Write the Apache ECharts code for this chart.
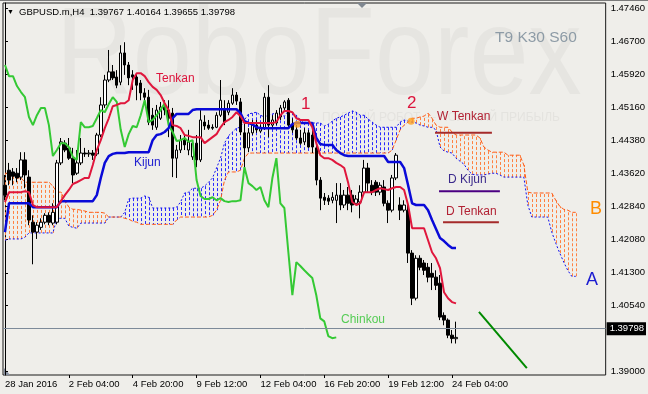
<!DOCTYPE html>
<html><head><meta charset="utf-8">
<script src="https://cdn.jsdelivr.net/npm/echarts@6/dist/echarts.min.js"></script>
<style>html,body{margin:0;padding:0;background:#efeeea;}#c{width:648px;height:394px;}</style>
</head><body><div id="c"></div>
<script>
// ---- data (GBPUSD.m, H4) ----
const firstLabel = '28 Jan 2016';
const xTickLabels = ['2 Feb 04:00','4 Feb 20:00','9 Feb 12:00','12 Feb 04:00','16 Feb 20:00','19 Feb 12:00','24 Feb 04:00'];
const yTickValues = [1.39,1.4054,1.413,1.4208,1.4284,1.4362,1.4438,1.4516,1.4592,1.467,1.4746];
const lastClose = 1.39798;
const titleText = 'GBPUSD.m,H4  1.39767 1.40164 1.39655 1.39798';

// candles: [open, close, low, high]
const candles = [
[1.4334,1.4311,1.4299,1.4358],[1.4369,1.4346,1.4334,1.4386],[1.4365,1.4355,1.4334,1.4374],[1.4362,1.4351,1.4341,1.4374],
[1.4353,1.4393,1.4346,1.4411],[1.4393,1.4358,1.4327,1.4411],[1.4353,1.4253,1.4241,1.4369],[1.4248,1.4225,1.4150,1.4264],
[1.4225,1.4241,1.4209,1.4248],[1.4236,1.4248,1.4230,1.4257],[1.4248,1.4264,1.4243,1.4269],[1.4264,1.4248,1.4241,1.4271],
[1.4246,1.4271,1.4241,1.4292],[1.4248,1.4386,1.4243,1.4393],[1.4386,1.4435,1.4381,1.4444],[1.4432,1.4416,1.4411,1.4439],
[1.4421,1.4397,1.4393,1.4444],[1.4397,1.4358,1.4339,1.4421],[1.4362,1.4386,1.4358,1.4416],[1.4386,1.4409,1.4381,1.4444],
[1.4409,1.4407,1.4400,1.4421],[1.4407,1.4409,1.4400,1.4416],[1.4409,1.4404,1.4393,1.4416],[1.4407,1.4451,1.4402,1.4456],
[1.4451,1.4521,1.4446,1.4539],[1.4521,1.4579,1.4514,1.4591],[1.4579,1.4598,1.4574,1.4649],[1.4598,1.4584,1.4579,1.4614],
[1.4586,1.4567,1.4560,1.4602],[1.4574,1.4642,1.4567,1.4660],[1.4642,1.4614,1.4591,1.4667],[1.4614,1.4584,1.4567,1.4621],
[1.4591,1.4586,1.4556,1.4602],[1.4586,1.4567,1.4532,1.4595],[1.4572,1.4549,1.4532,1.4579],[1.4549,1.4539,1.4521,1.4560],
[1.4539,1.4481,1.4474,1.4556],[1.4497,1.4474,1.4463,1.4514],[1.4469,1.4509,1.4463,1.4521],[1.4490,1.4516,1.4486,1.4528],
[1.4516,1.4509,1.4497,1.4532],[1.4509,1.4490,1.4446,1.4532],[1.4502,1.4397,1.4353,1.4514],[1.4397,1.4416,1.4351,1.4428],
[1.4416,1.4439,1.4409,1.4451],[1.4439,1.4428,1.4416,1.4451],[1.4416,1.4435,1.4404,1.4463],[1.4400,1.4432,1.4393,1.4439],
[1.4432,1.4393,1.4376,1.4451],[1.4393,1.4486,1.4388,1.4509],[1.4481,1.4472,1.4463,1.4497],[1.4474,1.4467,1.4463,1.4486],
[1.4469,1.4467,1.4463,1.4476],[1.4469,1.4497,1.4467,1.4504],[1.4497,1.4532,1.4493,1.4579],[1.4509,1.4481,1.4474,1.4532],
[1.4504,1.4525,1.4497,1.4532],[1.4525,1.4544,1.4521,1.4560],[1.4544,1.4530,1.4521,1.4551],[1.4528,1.4458,1.4451,1.4537],
[1.4456,1.4421,1.4374,1.4486],[1.4421,1.4456,1.4411,1.4467],[1.4456,1.4474,1.4451,1.4486],[1.4474,1.4463,1.4456,1.4486],
[1.4460,1.4469,1.4456,1.4476],[1.4467,1.4539,1.4463,1.4549],[1.4539,1.4474,1.4446,1.4567],[1.4474,1.4486,1.4467,1.4497],
[1.4479,1.4502,1.4474,1.4509],[1.4493,1.4514,1.4486,1.4521],[1.4514,1.4528,1.4509,1.4532],[1.4532,1.4474,1.4467,1.4537],
[1.4474,1.4463,1.4456,1.4490],[1.4463,1.4444,1.4439,1.4474],[1.4444,1.4432,1.4428,1.4463],[1.4435,1.4456,1.4428,1.4467],
[1.4456,1.4423,1.4421,1.4463],[1.4451,1.4423,1.4409,1.4463],[1.4421,1.4346,1.4334,1.4428],[1.4346,1.4304,1.4276,1.4353],
[1.4306,1.4299,1.4288,1.4316],[1.4304,1.4297,1.4288,1.4311],[1.4299,1.4306,1.4292,1.4318],[1.4299,1.4311,1.4246,1.4339],
[1.4311,1.4288,1.4276,1.4339],[1.4288,1.4311,1.4281,1.4323],[1.4311,1.4292,1.4276,1.4330],[1.4311,1.4288,1.4271,1.4323],
[1.4292,1.4302,1.4288,1.4311],[1.4295,1.4318,1.4257,1.4334],[1.4318,1.4374,1.4311,1.4393],[1.4374,1.4339,1.4318,1.4386],
[1.4334,1.4318,1.4311,1.4346],[1.4341,1.4318,1.4309,1.4346],[1.4318,1.4334,1.4311,1.4341],[1.4330,1.4292,1.4285,1.4346],
[1.4292,1.4276,1.4246,1.4299],[1.4276,1.4351,1.4271,1.4358],[1.4351,1.4404,1.4346,1.4409],[1.4288,1.4276,1.4253,1.4306],
[1.4276,1.4288,1.4271,1.4299],[1.4276,1.4176,1.4153,1.4288],[1.4176,1.4071,1.4055,1.4183],[1.4071,1.4164,1.4066,1.4171],
[1.4164,1.4143,1.4136,1.4171],[1.4153,1.4136,1.4125,1.4160],[1.4143,1.4120,1.4108,1.4153],[1.4129,1.4120,1.4090,1.4153],
[1.4120,1.4101,1.4090,1.4136],[1.4106,1.4027,1.4020,1.4125],[1.4031,1.4020,1.4008,1.4038],[1.4020,1.3985,1.3978,1.4024],
[1.3985,1.3977,1.3966,1.3997],[1.39767,1.39798,1.39655,1.40164]
];

const tenkan = [
1.4295,1.4318,1.4318,1.4318,1.4318,1.4320,1.4318,1.4288,1.4283,1.4283,
1.4283,1.4283,1.4283,1.4283,1.4297,1.4311,1.4323,1.4337,1.4341,1.4346,
1.4351,1.4351,1.4381,1.4416,1.4439,1.4467,1.4490,1.4518,1.4521,1.4525,
1.4525,1.4532,1.4579,1.4595,1.4595,1.4588,1.4574,1.4563,1.4556,1.4544,
1.4525,1.4509,1.4474,1.4472,1.4467,1.4451,1.4449,1.4446,1.4446,1.4446,
1.4432,1.4439,1.4446,1.4453,1.4469,1.4481,1.4486,1.4493,1.4504,1.4495,
1.4479,1.4479,1.4479,1.4479,1.4479,1.4479,1.4479,1.4479,1.4481,1.4497,
1.4507,1.4507,1.4504,1.4490,1.4486,1.4486,1.4486,1.4469,1.4432,1.4404,
1.4397,1.4397,1.4393,1.4386,1.4381,1.4374,1.4339,1.4295,1.4288,1.4292,
1.4318,1.4318,1.4318,1.4323,1.4327,1.4325,1.4323,1.4327,1.4330,1.4330,
1.4323,1.4288,1.4234,1.4234,1.4234,1.4234,1.4206,1.4178,1.4164,1.4141,
1.4085,1.4071,1.4062,1.4059
];

const kijun = [
1.4225,1.4292,1.4292,1.4292,1.4292,1.4292,1.4292,1.4283,1.4283,1.4283,
1.4283,1.4283,1.4283,1.4283,1.4297,1.4297,1.4297,1.4297,1.4297,1.4297,
1.4297,1.4297,1.4297,1.4311,1.4351,1.4386,1.4402,1.4407,1.4409,1.4409,
1.4409,1.4411,1.4411,1.4411,1.4411,1.4411,1.4411,1.4439,1.4451,1.4453,
1.4458,1.4467,1.4490,1.4500,1.4500,1.4500,1.4500,1.4509,1.4511,1.4511,
1.4511,1.4511,1.4511,1.4511,1.4511,1.4511,1.4511,1.4511,1.4511,1.4502,
1.4483,1.4479,1.4476,1.4469,1.4467,1.4467,1.4467,1.4467,1.4467,1.4467,
1.4467,1.4467,1.4476,1.4479,1.4479,1.4479,1.4479,1.4479,1.4444,1.4430,
1.4428,1.4428,1.4428,1.4416,1.4409,1.4404,1.4402,1.4402,1.4402,1.4402,
1.4402,1.4402,1.4402,1.4402,1.4402,1.4402,1.4388,1.4388,1.4388,1.4388,
1.4374,1.4334,1.4292,1.4288,1.4288,1.4288,1.4276,1.4253,1.4232,1.4211,
1.4204,1.4195,1.4188,1.4188
];

const chinkou = [
1.4614,1.4588,1.4588,1.4565,1.4551,1.4539,1.4493,1.4474,1.4497,1.4514,
1.4514,1.4474,1.4402,1.4416,1.4432,1.4432,1.4423,1.4400,1.4393,1.4481,
1.4469,1.4469,1.4472,1.4490,1.4509,1.4504,1.4523,1.4539,1.4528,1.4463,
1.4423,1.4453,1.4472,1.4469,1.4497,1.4532,1.4481,1.4486,1.4497,1.4509,
1.4525,1.4474,1.4458,1.4437,1.4439,1.4444,1.4435,1.4439,1.4346,1.4309,
1.4302,1.4302,1.4306,1.4299,1.4304,1.4297,1.4295,1.4297,1.4297,1.4299,
1.4376,1.4339,1.4332,1.4323,1.4330,1.4299,1.4283,1.4351,1.4397,1.4292,
1.4281,1.4178,1.4078,1.4155,1.4146,1.4136,1.4127,1.4118,1.4078,1.4024,
1.4017,1.3983,1.3978,1.39798
];

const senkouA = [
1.4206,1.4209,1.4209,1.4209,1.4209,1.4213,1.4223,1.4223,1.4223,1.4223,
1.4223,1.4223,1.4223,1.4257,1.4257,1.4257,1.4239,1.4236,1.4234,1.4246,
1.4246,1.4246,1.4246,1.4246,1.4246,1.4246,1.4260,1.4260,1.4260,1.4260,
1.4271,1.4302,1.4304,1.4304,1.4304,1.4309,1.4306,1.4281,1.4281,1.4281,
1.4281,1.4281,1.4281,1.4283,1.4295,1.4316,1.4318,1.4327,1.4327,1.4327,
1.4332,1.4341,1.4351,1.4374,1.4397,1.4432,1.4449,1.4458,1.4467,1.4469,
1.4486,1.4500,1.4502,1.4504,1.4497,1.4493,1.4497,1.4500,1.4502,1.4497,
1.4495,1.4507,1.4504,1.4497,1.4486,1.4481,1.4479,1.4479,1.4479,1.4479,
1.4472,1.4476,1.4483,1.4490,1.4493,1.4497,1.4502,1.4507,1.4504,1.4497,
1.4497,1.4488,1.4481,1.4474,1.4469,1.4469,1.4469,1.4469,1.4469,1.4481,
1.4486,1.4483,1.4481,1.4479,1.4474,1.4472,1.4469,1.4469,1.4463,1.4423,
1.4414,1.4411,1.4409,1.4397,1.4390,1.4383,1.4369,1.4360,1.4358,1.4358,
1.4358,1.4360,1.4362,1.4362,1.4358,1.4353,1.4353,1.4353,1.4353,1.4353,
1.4353,1.4288,1.4260,1.4260,1.4260,1.4260,1.4260,1.4225,1.4199,1.4176,
1.4155,1.4136,1.4122,1.4122
];

const senkouB = [
1.4362,1.4362,1.4355,1.4351,1.4351,1.4341,1.4341,1.4341,1.4341,1.4341,
1.4341,1.4341,1.4332,1.4318,1.4318,1.4299,1.4283,1.4278,1.4278,1.4276,
1.4274,1.4271,1.4271,1.4271,1.4271,1.4269,1.4260,1.4260,1.4260,1.4260,
1.4257,1.4255,1.4250,1.4248,1.4243,1.4243,1.4243,1.4243,1.4243,1.4243,
1.4243,1.4243,1.4243,1.4253,1.4260,1.4260,1.4260,1.4260,1.4260,1.4260,
1.4260,1.4260,1.4264,1.4276,1.4299,1.4346,1.4365,1.4365,1.4365,1.4369,
1.4397,1.4409,1.4409,1.4409,1.4409,1.4409,1.4409,1.4409,1.4409,1.4409,
1.4409,1.4409,1.4409,1.4409,1.4409,1.4409,1.4409,1.4409,1.4409,1.4409,
1.4409,1.4409,1.4409,1.4409,1.4409,1.4409,1.4409,1.4409,1.4409,1.4409,
1.4409,1.4409,1.4409,1.4409,1.4409,1.4409,1.4409,1.4416,1.4439,1.4463,
1.4474,1.4481,1.4490,1.4490,1.4493,1.4495,1.4502,1.4490,1.4474,1.4469,
1.4469,1.4469,1.4458,1.4451,1.4451,1.4451,1.4451,1.4451,1.4451,1.4444,
1.4423,1.4416,1.4411,1.4411,1.4411,1.4411,1.4404,1.4404,1.4404,1.4404,
1.4381,1.4318,1.4316,1.4316,1.4316,1.4316,1.4316,1.4316,1.4299,1.4285,
1.4278,1.4276,1.4271,1.4271
];

// drawn objects: [name, price, fromBar, toBar]
const levelLines = [
  ['W Tenkan', 1.4456, 107.75, 122.0],
  ['D Kijun',  1.4320, 108.75, 124.0],
  ['D Tenkan', 1.4248, 109.75, 123.75]
];
const trendLine = [[118.75, 1.4039], [130.75, 1.3908]];
const crossMarks = [[73.25, 1.4476], [101.75, 1.4483]];

// ---- categories (H4 bars, weekends skipped) ----
const MONTHS = ['Jan','Feb','Mar','Apr','May','Jun','Jul','Aug','Sep','Oct','Nov','Dec'];
const BAR_COUNT = 151;
const barTimes = [];
(function(){
  let t = Date.UTC(2016,0,28,12);
  while (barTimes.length < BAR_COUNT) {
    const d = new Date(t); const wd = d.getUTCDay();
    if (wd !== 0 && wd !== 6) {
      barTimes.push(d.getUTCDate()+' '+MONTHS[d.getUTCMonth()]+' '+String(d.getUTCHours()).padStart(2,'0')+':00');
    }
    t += 4*3600*1000;
  }
})();

const Y_MIN = 1.389222, Y_MAX = 1.475834;
const FONT = '"Liberation Sans", Arial, sans-serif';

const cloudData = senkouA.map((a,i)=>[i, a, senkouB[i]]);
const labelShown = (idx, val) => idx === 0 || xTickLabels.indexOf(val) >= 0;
const tickShown = (idx, val) => xTickLabels.indexOf(val) >= 0;

const levelColors = {'W Tenkan':'#a52a2a','D Kijun':'#4b0082','D Tenkan':'#a52a2a'};

const series = [
  { type:'custom', name:'kumo', xAxisIndex:0, data:cloudData, z:1, silent:true,
    encode:{x:0, y:[1,2]},
    renderItem:function(params, api){
      const i = api.value(0), a = api.value(1), b = api.value(2);
      const p1 = api.coord([i,a]), p2 = api.coord([i,b]);
      const x = Math.round(p1[0]) + 0.5;
      return { type:'line', shape:{x1:x, y1:p1[1], x2:x, y2:p2[1]},
        style:{ stroke: b > a ? '#ff8040' : '#2a2aff', lineWidth:1, lineDash:[3,2] } };
    }
  },
  { type:'line', name:'Senkou A', data:senkouA, symbol:'none', z:2, silent:true,
    lineStyle:{color:'#1010ee', width:1, type:[2,2]} },
  { type:'line', name:'Senkou B', data:senkouB, symbol:'none', z:2, silent:true,
    lineStyle:{color:'#ff5a14', width:1, type:[4,2]} },
  { type:'candlestick', name:'GBPUSD', data:candles, barWidth:3, z:3, silent:true,
    itemStyle:{color:'#ffffff', color0:'#000000', borderColor:'#000000', borderColor0:'#000000', borderWidth:1},
    markLine:{ symbol:'none', silent:true, animation:false,
      data:[{yAxis:lastClose}],
      lineStyle:{color:'#7d8a99', width:1, type:'solid'},
      label:{show:true, position:'end', distance:1, formatter:()=>lastClose.toFixed(5),
        backgroundColor:'#000', color:'#fff', padding:[2,2,1,3], fontSize:9.5, fontFamily:FONT} }
  },
  { type:'line', name:'Chinkou', data:chinkou, symbol:'none', z:4, silent:true,
    lineStyle:{color:'#34c934', width:2} },
  { type:'line', name:'Kijun', data:kijun, symbol:'none', z:5, silent:true,
    lineStyle:{color:'#0a0ad8', width:2.5} },
  { type:'line', name:'Tenkan', data:tenkan, symbol:'none', z:6, silent:true,
    lineStyle:{color:'#e0163c', width:2} }
];
levelLines.forEach(l => {
  series.push({ type:'line', name:l[0], xAxisIndex:1, data:[[l[2],l[1]],[l[3],l[1]]], symbol:'none', z:7, silent:true,
    lineStyle:{color:levelColors[l[0]], width:2} });
});
series.push({ type:'line', name:'trend', xAxisIndex:1, data:trendLine, symbol:'none', z:7, silent:true,
  lineStyle:{color:'#008a00', width:2} });
series.push({ type:'scatter', name:'cross', xAxisIndex:1, data:crossMarks, symbol:'circle', symbolSize:7, z:8, silent:true,
  itemStyle:{color:'#ffa020'} });

const txt = (x,y,text,size,fill,extra) => Object.assign({ type:'text', x:x, y:y, silent:true,
  style:{ text:text, font: size+'px '+FONT, fill:fill, verticalAlign:'middle', align:'left' } }, extra||{});

const option = {
  animation:false,
  backgroundColor:'#efeeea',
  grid:{left:3, right:41, top:3, bottom:19, show:true, borderColor:'#1a1a1a', borderWidth:1, backgroundColor:'transparent'},
  xAxis:[
    { type:'category', data:barTimes, boundaryGap:true,
      axisLine:{show:false},
      axisTick:{show:true, interval:tickShown, alignWithLabel:true, length:3, lineStyle:{color:'#000'}},
      axisLabel:{interval:labelShown, formatter:(v,i)=> i===0 ? firstLabel : v, align:'left', margin:4,
        fontSize:9.5, fontFamily:FONT, color:'#000'},
      splitLine:{show:false} },
    { type:'value', min:-0.5, max:BAR_COUNT-0.5, show:false, gridIndex:0 }
  ],
  yAxis:{ type:'value', position:'right', min:Y_MIN, max:Y_MAX,
    axisLine:{show:true, lineStyle:{color:'#000'}},
    axisTick:{show:true, customValues:yTickValues, length:3, lineStyle:{color:'#000'}},
    axisLabel:{customValues:yTickValues, formatter:v=>v.toFixed(5), fontSize:9.5, fontFamily:FONT, color:'#000', margin:5},
    splitLine:{show:false} },
  graphic:[
    { type:'group', z:-10, silent:true, children:[
      { type:'text', x:56, y:60, scaleX:0.85, silent:true,
        style:{text:'RoboForex', font:'125px '+FONT, fill:'#e6e5e1', verticalAlign:'middle', align:'left'} },
      { type:'text', x:322, y:118, silent:true,
        style:{text:'ПОЛНЫЙ РОБОТ — ПОЛУЧАЙ ПРИБЫЛЬ', font:'12px '+FONT, fill:'#e4e3df', verticalAlign:'middle', align:'left'} }
    ]},
    { type:'line', silent:true, shape:{x1:0,y1:0.5,x2:648,y2:0.5}, style:{stroke:'#7a7a7a', lineWidth:1} },
    { type:'polygon', silent:true, shape:{points:[[357,3],[367,3],[362,8]]}, style:{fill:'#7f8790'} },
    { type:'polygon', silent:true, shape:{points:[[4,368],[4,375],[10,375]]}, style:{fill:'#8890a0'} },
    txt(7,12,'▼',7,'#000'),
    txt(19,12,titleText,9.5,'#000'),
    txt(495,38,'T9 K30 S60',15.5,'#8d9ba6'),
    txt(156,79,'Tenkan',12,'#dc143c'),
    txt(134,163,'Kijun',12,'#2020d0'),
    txt(341,320,'Chinkou',12,'#55cc55'),
    txt(301,104,'1',17,'#dc143c'),
    txt(407,103,'2',17,'#dc143c'),
    txt(437,117,'W Tenkan',12,'#b22234'),
    txt(448,180,'D Kijun',12,'#3c2a8c'),
    txt(446,212,'D Tenkan',12,'#b22234'),
    txt(590,209,'B',18,'#ff8c00'),
    txt(586,280,'A',18,'#1c1cd0')
  ],
  series:series
};
const chart = echarts.init(document.getElementById('c'), null, {renderer:'canvas', width:648, height:394});
chart.setOption(option);
</script>
</body></html>
